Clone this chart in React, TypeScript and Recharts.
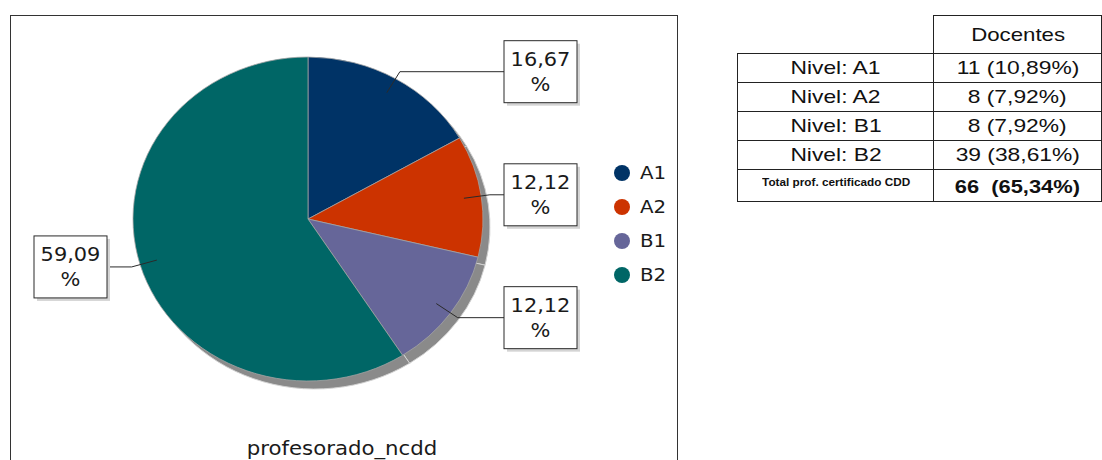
import { PieChart, Pie, Cell, Legend } from 'recharts';

// niveles de certificación CDD
const levels = ['A1', 'A2', 'B1', 'B2'];
const teachers = [11, 8, 8, 39];
const colors = ['#003366', '#cc3300', '#666699', '#006666'];

const tableRows = ['Nivel: A1', 'Nivel: A2', 'Nivel: B1', 'Nivel: B2'];
const tableValues = ['11 (10,89%)', '8 (7,92%)', '8 (7,92%)', '39 (38,61%)'];
const headerLabel = 'Docentes';
const totalLabel = 'Total prof. certificado CDD';
const totalValue = '66  (65,34%)';
const chartTitle = 'profesorado_ncdd';

const data = levels.map((name, i) => ({ name, value: teachers[i] }));

const CX = 308;
const CY = 219;
const R = 175;
const SQUASH = 162 / 175;
const SH_DX = 7;
const SH_DY = 8;
const BOX_W = 73;
const BOX_H = 62;
const FONT = '"DejaVu Sans", sans-serif';

const renderLabel = (p: any) => {
  const { cx, cy, midAngle, outerRadius, percent, index } = p;
  const RAD = Math.PI / 180;
  const cos = Math.cos(-midAngle * RAD);
  const sin = Math.sin(-midAngle * RAD);
  const rx = outerRadius;
  const ry = outerRadius * SQUASH;
  const sx = cx + rx * 0.9 * cos;
  const sy = cy + ry * 0.9 * sin;
  const ex = cx + rx * 1.05 * cos;
  const ey = cy + ry * 1.05 * sin;
  const right = cos >= 0;
  const bx = right ? cx + rx + 21 : cx - rx - 26 - BOX_W;
  const lineEnd = right ? bx : bx + BOX_W;
  const by = ey - BOX_H / 2;
  const txt = (percent * 100).toFixed(2).replace('.', ',');
  const tx = bx + BOX_W / 2;
  return (
    <g key={`lbl-${index}`}>
      <polyline
        points={`${sx},${sy} ${ex},${ey} ${lineEnd},${ey}`}
        fill="none"
        stroke="#2a2a2a"
        strokeWidth={1}
      />
      <rect x={bx + 3} y={by + 3} width={BOX_W} height={BOX_H} fill="#d4d4d4" />
      <rect x={bx} y={by} width={BOX_W} height={BOX_H} fill="#fff" stroke="#2a2a2a" strokeWidth={1} />
      <text
        transform={`translate(${tx},${by + 25}) scale(1.1,1)`}
        textAnchor="middle"
        fontSize={19}
        fontFamily={FONT}
        fill="#1a1a1a"
      >
        {txt}
      </text>
      <text
        transform={`translate(${tx},${by + 50}) scale(1.1,1)`}
        textAnchor="middle"
        fontSize={19}
        fontFamily={FONT}
        fill="#1a1a1a"
      >
        %
      </text>
    </g>
  );
};

const renderLegend = (props: any) => {
  const items = (props.payload || []).filter((e: any) => e.type !== 'none');
  return (
    <svg width={70} height={140}>
      {items.map((e: any, i: number) => (
        <g key={e.value}>
          <circle cx={10} cy={18 + i * 34} r={8} fill={e.color} />
          <text
            transform={`translate(28,${24 + i * 34}) scale(1.1,1)`}
            fontSize={18}
            fontFamily={FONT}
            fill="#1a1a1a"
          >
            {e.value}
          </text>
        </g>
      ))}
    </svg>
  );
};

const cellText = (s: string, size: number, bold = false, scale = 1.2) => (
  <span
    style={{
      display: 'inline-block',
      transform: `scaleX(${scale})`,
      fontSize: size,
      fontWeight: bold ? 'bold' : 'normal',
      whiteSpace: 'pre',
      lineHeight: 1,
    }}
  >
    {s}
  </span>
);

export default function App() {
  const border = '1px solid #222';
  const cell: any = { border, textAlign: 'center', padding: 0, height: 28 };
  return (
    <div
      style={{
        position: 'relative',
        width: 1102,
        height: 460,
        overflow: 'hidden',
        background: '#fff',
      }}
    >
      <style>{`
        body { margin: 0; }
        .pie-main .recharts-pie-sector { transform: scaleY(${SQUASH}); transform-origin: ${CX}px ${CY}px; }
        .pie-shadow .recharts-pie-sector { transform: scaleY(${SQUASH}); transform-origin: ${CX + SH_DX}px ${CY + SH_DY}px; }
      `}</style>
      <div
        style={{
          position: 'absolute',
          left: 10,
          top: 15,
          width: 668,
          height: 470,
          border: '1px solid #333',
          boxSizing: 'border-box',
        }}
      />
      <div style={{ position: 'absolute', left: 0, top: 0 }}>
        <PieChart width={680} height={460} margin={{ top: 0, right: 0, bottom: 0, left: 0 }}>
          <Pie
            className="pie-shadow"
            data={data}
            dataKey="value"
            nameKey="name"
            cx={CX + SH_DX}
            cy={CY + SH_DY}
            outerRadius={R}
            startAngle={90}
            endAngle={-270}
            fill="#8a8a8a"
            stroke="#d2d2d2"
            strokeWidth={1}
            legendType="none"
            labelLine={false}
            isAnimationActive={false}
          />
          <Pie
            className="pie-main"
            data={data}
            dataKey="value"
            nameKey="name"
            cx={CX}
            cy={CY}
            outerRadius={R}
            startAngle={90}
            endAngle={-270}
            stroke="#a5a5a5"
            strokeWidth={0.8}
            labelLine={false}
            label={renderLabel}
            legendType="circle"
            isAnimationActive={false}
          >
            {data.map((d, i) => (
              <Cell key={d.name} fill={colors[i]} />
            ))}
          </Pie>
          <Legend
            layout="vertical"
            align="right"
            verticalAlign="middle"
            content={renderLegend}
            wrapperStyle={{ position: 'absolute', left: 612, top: 155, width: 70, height: 140 }}
          />
          <text
            transform="translate(342,455) scale(1.12,1)"
            textAnchor="middle"
            fontSize={19}
            fontFamily={FONT}
            fill="#1a1a1a"
          >
            {chartTitle}
          </text>
        </PieChart>
      </div>
      <table
        style={{
          position: 'absolute',
          left: 737,
          top: 15,
          borderCollapse: 'collapse',
          fontFamily: '"Liberation Sans", Arial, sans-serif',
          color: '#111',
          tableLayout: 'fixed',
        }}
      >
        <colgroup>
          <col style={{ width: 201 }} />
          <col style={{ width: 172 }} />
        </colgroup>
        <tbody>
          <tr style={{ height: 38 }}>
            <td style={{ padding: 0, border: 'none' }} />
            <td style={{ ...cell, height: 37, borderBottom: border }}>{cellText(headerLabel, 19, false, 1.17)}</td>
          </tr>
          {tableRows.map((r, i) => (
            <tr key={r} style={{ height: 29 }}>
              <td style={cell}>{cellText(r, 19)}</td>
              <td style={cell}>{cellText(tableValues[i], 19)}</td>
            </tr>
          ))}
          <tr style={{ height: 29 }}>
            <td style={{ ...cell, verticalAlign: 'top', paddingTop: 2 }}>{cellText(totalLabel, 10.5, true, 1.12)}</td>
            <td style={{ ...cell, paddingTop: 3 }}>{cellText(totalValue, 19, true, 1.15)}</td>
          </tr>
        </tbody>
      </table>
    </div>
  );
}
